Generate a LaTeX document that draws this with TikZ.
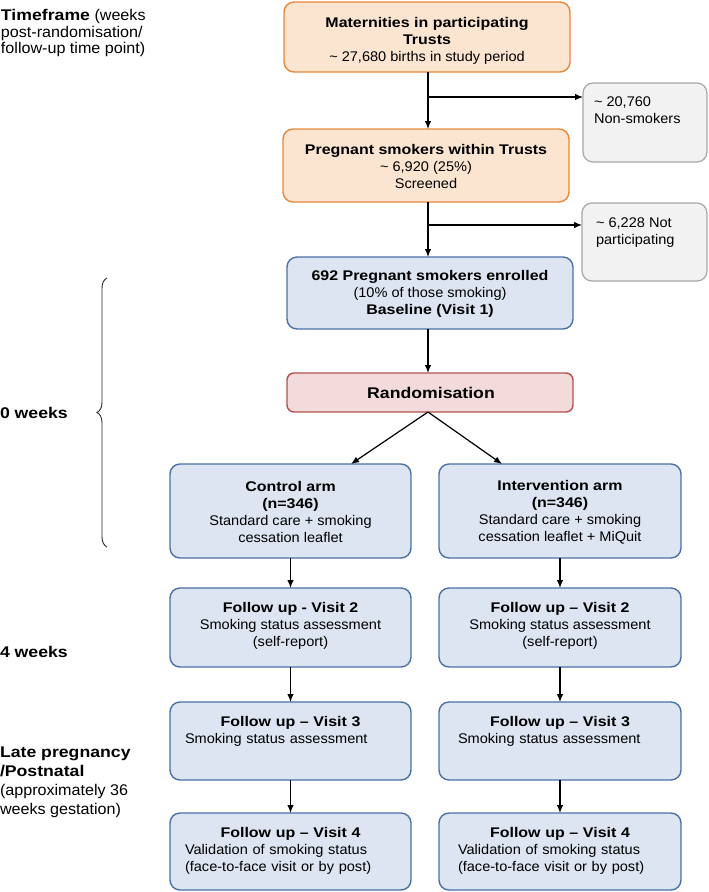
\documentclass[tikz,border=0pt]{standalone}
\usepackage{fontspec}
\setmainfont{Liberation Sans}[FakeStretch=1.04, BoldFeatures={FakeStretch=1.14}]
\usetikzlibrary{arrows.meta,decorations.pathreplacing}
\definecolor{orFill}{HTML}{FBE4D0}
\definecolor{orLine}{HTML}{E8883C}
\definecolor{grFill}{HTML}{F2F2F2}
\definecolor{grLine}{HTML}{A8A8A8}
\definecolor{blFill}{HTML}{DCE5F1}
\definecolor{blLine}{HTML}{4C71A6}
\definecolor{rdFill}{HTML}{F2DBDA}
\definecolor{rdLine}{HTML}{B3514E}
\begin{document}
\begin{tikzpicture}[x=1pt,y=-1pt,
  every node/.style={inner sep=0pt, outer sep=0pt},
  box/.style={draw, rounded corners=10pt, line width=1.4pt},
  obox/.style={box, draw=orLine, fill=orFill},
  gbox/.style={box, draw=grLine, fill=grFill, line width=1.2pt},
  bbox/.style={box, draw=blLine, fill=blFill},
  rbox/.style={box, draw=rdLine, fill=rdFill, rounded corners=7pt},
  txt/.style={font=\fontsize{14}{17}\selectfont, align=center},
  ltxt/.style={font=\fontsize{14}{17}\selectfont, align=left},
  side/.style={align=left, anchor=west, font=\fontsize{15.5}{18}\selectfont},
  arr/.style={-{Latex[length=8pt,width=6.5pt]}, line width=1.2pt},
  bracestyle/.style={decorate, decoration={brace, amplitude=10pt}, line width=0.9pt, draw=black!85}
]
\useasboundingbox (0,0) rectangle (709,892);

% left timeline labels
\node[side, font=\fontsize{15.5}{16.5}\selectfont] (tf) at (1,33) {\textbf{Timeframe} (weeks\\post-randomisation/\\follow-up time point)};
\node[side] (w0) at (0,413) {\textbf{0 weeks}};
\node[side] (w4) at (0,652) {\textbf{4 weeks}};
\node[side, font=\fontsize{15.5}{19}\selectfont] (lp) at (0,782) {\textbf{Late pregnancy}\\\textbf{/Postnatal}\\(approximately 36\\weeks gestation)};
\draw[bracestyle] (107,547) -- (107,278);

% main column
\node[obox, minimum width=286pt, minimum height=70pt] (mat) at (427,37) {};
\node[txt] (matT) at (427,40.5) {\textbf{Maternities in participating}\\\textbf{Trusts}\\\textasciitilde\ 27,680 births in study period};

\node[obox, minimum width=286pt, minimum height=73pt] (preg) at (426,165.5) {};
\node[txt] (pregT) at (426,166.5) {\textbf{Pregnant smokers within Trusts}\\\textasciitilde\ 6,920 (25\%)\\Screened};

\node[gbox, minimum width=124pt, minimum height=79pt] (nons) at (645,122.5) {};
\node[ltxt] (nonsT) at (594,110) [anchor=west] {\textasciitilde\ 20,760\\Non-smokers};

\node[gbox, minimum width=125pt, minimum height=78pt] (notp) at (644.5,242) {};
\node[ltxt] (notpT) at (596,232.5) [anchor=west] {\textasciitilde\ 6,228 Not\\participating};

\node[bbox, minimum width=286pt, minimum height=72pt] (enr) at (430,293) {};
\node[txt] (enrT) at (430,294) {\textbf{692 Pregnant smokers enrolled}\\(10\% of those smoking)\\\textbf{Baseline (Visit 1)}};

\node[rbox, minimum width=286pt, minimum height=39pt] (rand) at (430,392.5) {};
\node[txt, font=\fontsize{15.5}{19}\selectfont] (randT) at (431,393) {\textbf{Randomisation}};

% arms
\node[bbox, minimum width=241pt, minimum height=94pt] (ctrl) at (290.5,511) {};
\node[txt] (ctrlT) at (290.5,512) {\textbf{Control arm}\\\textbf{(n=346)}\\Standard care + smoking\\cessation leaflet};

\node[bbox, minimum width=242pt, minimum height=94pt] (intv) at (560,511) {};
\node[txt] (intvT) at (560,512) {\textbf{Intervention arm}\\\textbf{(n=346)}\\Standard care + smoking\\cessation leaflet + MiQuit};

\node[bbox, minimum width=241pt, minimum height=79pt] (v2l) at (290.5,627.5) {};
\node[txt] (v2lT) at (290.5,626) {\textbf{Follow up - Visit 2}\\Smoking status assessment\\(self-report)};

\node[bbox, minimum width=242pt, minimum height=79pt] (v2r) at (560,627.5) {};
\node[txt] (v2rT) at (560,626) {\textbf{Follow up – Visit 2}\\Smoking status assessment\\(self-report)};

\node[bbox, minimum width=241pt, minimum height=78pt] (v3l) at (290.5,741) {};
\node[ltxt, text width=211pt] (v3lT) at (290.5,731) {\makebox[211pt][c]{\bfseries Follow up – Visit 3}\\Smoking status assessment};

\node[bbox, minimum width=242pt, minimum height=78pt] (v3r) at (560,741) {};
\node[ltxt, text width=204pt] (v3rT) at (560,731) {\makebox[204pt][c]{\bfseries Follow up – Visit 3}\\Smoking status assessment};

\node[bbox, minimum width=241pt, minimum height=77pt] (v4l) at (290.5,851.5) {};
\node[ltxt, text width=211pt] (v4lT) at (290.5,850.5) {\makebox[211pt][c]{\bfseries Follow up – Visit 4}\\Validation of smoking status\\(face-to-face visit or by post)};

\node[bbox, minimum width=242pt, minimum height=77pt] (v4r) at (560,851.5) {};
\node[ltxt, text width=204pt] (v4rT) at (560,850.5) {\makebox[204pt][c]{\bfseries Follow up – Visit 4}\\Validation of smoking status\\(face-to-face visit or by post)};

% connectors
\coordinate (b1) at (428,97);
\coordinate (b2) at (428,225);
\draw[arr] (mat.south -| b1) -- (preg.north -| b1);
\draw[arr] (b1) -- (b1 -| nons.west);
\draw[arr] (preg.south -| b2) -- (enr.north -| b2);
\draw[arr] (b2) -- (b2 -| notp.west);
\draw[arr] (enr.south -| b2) -- (rand.north -| b2);
\draw[arr] (rand.south -| b2) -- ([xshift=60.5pt]ctrl.north);
\draw[arr] (rand.south -| b2) -- ([xshift=-58pt]intv.north);
\draw[arr] (ctrl.south) -- (v2l.north);
\draw[arr] (intv.south) -- (v2r.north);
\draw[arr] (v2l.south) -- (v3l.north);
\draw[arr] (v2r.south) -- (v3r.north);
\draw[arr] (v3l.south) -- (v4l.north);
\draw[arr] (v3r.south) -- (v4r.north);
\end{tikzpicture}
\end{document}
